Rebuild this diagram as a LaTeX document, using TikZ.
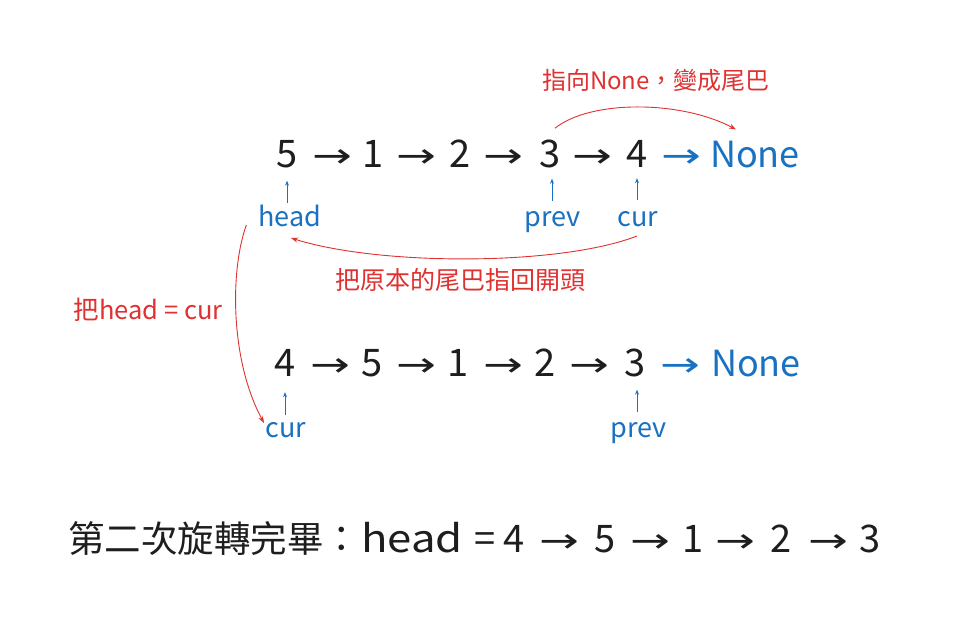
\documentclass[tikz,border=0pt]{standalone}
\usepackage{graphicx}
\usepackage{fontspec}
\setmainfont{Noto Sans CJK TC}
\newfontfamily\symf{DejaVu Sans}
\usetikzlibrary{arrows.meta,calc}
\definecolor{ink}{HTML}{1E1E1E}
\definecolor{bl}{HTML}{1971C2}
\definecolor{rd}{HTML}{E03131}
\newcommand{\ra}{\scalebox{1.4}[1]{→}}
\begin{document}
\begin{tikzpicture}[x=1pt,y=-1pt,
  every node/.style={inner sep=0pt, anchor=base},
  num/.style={font=\fontsize{38}{44}\selectfont, text=ink},
  arr/.style={font=\symf\fontsize{34}{40}\selectfont, text=ink},
  barr/.style={arr, text=bl},
  none/.style={font=\fontsize{36}{42}\selectfont, text=bl},
  lab/.style={font=\fontsize{27}{32}\selectfont, text=bl},
  note/.style={font=\fontsize{24}{28}\selectfont, text=rd},
  uparr/.style={draw=bl, line width=0.8pt, -{Stealth[length=5pt,width=4pt]}},
  redarr/.style={draw=rd, line width=0.9pt, -{Stealth[length=7pt,width=5pt]}},
]
\useasboundingbox (0,0) rectangle (959,628);
\fill[white] (0,0) rectangle (959,628);

% ---- row 1 ----
\node[num] (a5) at (287,168) {5};
\node[arr] (ar1) at (332,168) {\ra};
\node[num] (a1) at (373,168) {1};
\node[arr] (ar2) at (416,168) {\ra};
\node[num] (a2) at (460,168) {2};
\node[arr] (ar3) at (503,168) {\ra};
\node[num] (a3) at (550,168) {3};
\node[arr] (ar4) at (592,168) {\ra};
\node[num] (a4) at (637,168) {4};
\node[barr] (ar5) at (681,168) {\ra};
\node[none] (an) at (755,168) {None};

\node[lab] (hd) at (290,227) {head};
\node[lab] (pv) at (553,227) {prev};
\node[lab] (c1) at (638,227) {cur};

\draw[uparr] ([yshift=-34pt]a5.south) -- ([yshift=-12pt]a5.south);
\draw[uparr] ([yshift=-32pt,xshift=2pt]a3.south) -- ([yshift=-10pt,xshift=2pt]a3.south);
\draw[uparr] ([yshift=-32pt]a4.south) -- ([yshift=-10pt]a4.south);

% top red curve
\node[note] (t1) at (656,90) {指向None，變成尾巴};
\draw[redarr] ($(a3.north)+(5,-12)$) .. controls (590,100) and (680,100) .. ($(an.north)+(-19,-12)$);

% bottom red curve
\node[note, font=\fontsize{25}{30}\selectfont] (t2) at (460,290) {把原本的尾巴指回開頭};
\draw[redarr] ($(c1.base)+(-1,9)$) .. controls (560,266) and (380,266) .. ($(hd.base)+(1,11)$);

% left red curve
\node[note, font=\fontsize{25.5}{30}\selectfont] (t3) at (148,320) {把head = cur};

% ---- row 2 ----
\node[num] (b4) at (285,377) {4};
\node[arr] (br1) at (330,377) {\ra};
\node[num] (b5) at (372,377) {5};
\node[arr] (br2) at (416,377) {\ra};
\node[num] (b1) at (458,377) {1};
\node[arr] (br3) at (503,377) {\ra};
\node[num] (b2) at (545,377) {2};
\node[arr] (br4) at (589,377) {\ra};
\node[num] (b3) at (635,377) {3};
\node[barr] (br5) at (680,377) {\ra};
\node[none] (bn) at (756,377) {None};

\node[lab] (c2) at (286,437) {cur};
\node[lab] (p2) at (639,437) {prev};

\draw[uparr] ([yshift=-38pt]b4.south) -- ([yshift=-15pt]b4.south);
\draw[uparr] ([yshift=-34pt,xshift=2pt]b3.south) -- ([yshift=-12pt,xshift=2pt]b3.south);

\draw[redarr] ($(hd.base west)+(-12,-2)$) .. controls (230,270) and (230,360) .. ($(c2.base)+(-22,-14)$);

% ---- bottom line ----
\node[anchor=base west, font=\fontsize{36.5}{42}\selectfont, text=ink] (res) at (68,552) {第二次旋轉完畢：};
\node[font=\fontsize{38}{44}\selectfont, text=ink] (rh) at (412,552) {\scalebox{1.15}[1]{head}};
\node[font=\fontsize{38}{44}\selectfont, text=ink] (req) at (485,552) {=};
\node[num] (r4) at (514,552) {4};
\node[arr] (ra1) at (559,552) {\ra};
\node[num] (r5) at (605,552) {5};
\node[arr] (ra2) at (650,552) {\ra};
\node[num] (r1) at (693,552) {1};
\node[arr] (ra3) at (735,552) {\ra};
\node[num] (r2) at (781,552) {2};
\node[arr] (ra4) at (828,552) {\ra};
\node[num] (r3) at (870,552) {3};
\end{tikzpicture}
\end{document}
